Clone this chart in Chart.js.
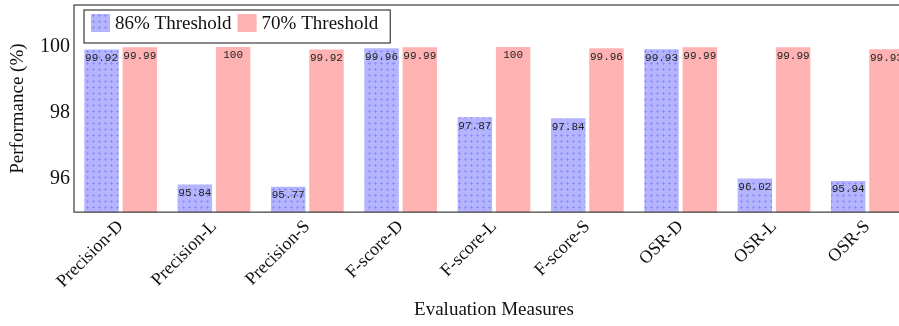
<!DOCTYPE html>
<html lang="en">
<head>
    <meta charset="UTF-8">
    <title>Evaluation Measures</title>
    <script src="https://cdn.jsdelivr.net/npm/chart.js"></script>
    <style>
        body {
            margin: 0;
            background: white;
            overflow: hidden;
        }

        .chart-box {
            position: relative;
            width: 914px;
            height: 326px;
        }
    </style>
</head>
<body>
    <div class="chart-box">
        <canvas id="perf-chart"></canvas>
    </div>

    <script>
        // Dados do gráfico
        const categories = ['Precision-D', 'Precision-L', 'Precision-S', 'F-score-D', 'F-score-L', 'F-score-S', 'OSR-D', 'OSR-L', 'OSR-S'];
        const threshold86 = [99.92, 95.84, 95.77, 99.96, 97.87, 97.84, 99.93, 96.02, 95.94];
        const threshold70 = [99.99, 100, 99.92, 99.99, 100, 99.96, 99.99, 99.99, 99.93];
        const seriesNames = ['86% Threshold', '70% Threshold'];
        const yTicks = [96, 98, 100];

        const serif = '"Liberation Serif", "DejaVu Serif", serif';
        const mono = '"Liberation Mono", "DejaVu Sans Mono", monospace';

        // Padrão de pontos para as barras azuis
        function dotPattern() {
            const c = document.createElement('canvas');
            c.width = 6;
            c.height = 6;
            const g = c.getContext('2d');
            g.fillStyle = 'rgb(180, 180, 255)';
            g.fillRect(0, 0, 6, 6);
            g.fillStyle = 'rgb(145, 145, 250)';
            g.fillRect(3, 2, 1, 3);
            g.fillRect(2, 3, 3, 1);
            return g.createPattern(c, 'repeat');
        }
        const bluePattern = dotPattern();
        const pink = 'rgb(255, 178, 178)';

        // Moldura em volta da área do gráfico
        const framePlugin = {
            id: 'frame',
            afterDraw(chart) {
                const { ctx, chartArea: { top, right, bottom, left } } = chart;
                ctx.save();
                ctx.strokeStyle = '#3a3a3a';
                ctx.lineWidth = 1.2;
                ctx.strokeRect(left, top, right - left, bottom - top);
                ctx.restore();
            }
        };

        // Valores escritos no topo de cada barra
        const valueLabelPlugin = {
            id: 'valueLabels',
            afterDatasetsDraw(chart) {
                const { ctx } = chart;
                ctx.save();
                ctx.font = '11px ' + mono;
                ctx.fillStyle = '#222';
                ctx.textAlign = 'center';
                ctx.textBaseline = 'top';
                chart.data.datasets.forEach((ds, i) => {
                    chart.getDatasetMeta(i).data.forEach((bar, j) => {
                        ctx.fillText(String(ds.data[j]), bar.x, bar.y + 3);
                    });
                });
                ctx.restore();
            }
        };

        // Legenda dentro da área do gráfico
        const innerLegendPlugin = {
            id: 'innerLegend',
            afterDraw(chart) {
                const { ctx, chartArea } = chart;
                const x0 = chartArea.left + 10;
                const y0 = chartArea.top + 5;
                ctx.save();
                ctx.font = '19px ' + serif;
                ctx.textBaseline = 'middle';
                let x = x0 + 7;
                const items = chart.data.datasets.map(ds => ({ text: ds.label, fill: ds.backgroundColor }));
                const widths = items.map(it => ctx.measureText(it.text).width);
                const boxW = 7 + items.length * (19 + 5) + widths.reduce((a, b) => a + b, 0) + (items.length - 1) * 6 + 12;
                ctx.fillStyle = 'white';
                ctx.fillRect(x0, y0, boxW, 33);
                ctx.strokeStyle = '#3a3a3a';
                ctx.lineWidth = 1.2;
                ctx.strokeRect(x0, y0, boxW, 33);
                items.forEach((it, k) => {
                    ctx.fillStyle = it.fill;
                    ctx.fillRect(x, y0 + 4, 19, 18);
                    x += 19 + 5;
                    ctx.fillStyle = '#111';
                    ctx.fillText(it.text, x, y0 + 14);
                    x += widths[k] + 6;
                });
                ctx.restore();
            }
        };

        new Chart(document.getElementById('perf-chart'), {
            type: 'bar',
            data: {
                labels: categories,
                datasets: [
                    {
                        label: seriesNames[0],
                        data: threshold86,
                        backgroundColor: bluePattern,
                        borderWidth: 0,
                    },
                    {
                        label: seriesNames[1],
                        data: threshold70,
                        backgroundColor: pink,
                        borderWidth: 0,
                    },
                ],
            },
            options: {
                responsive: true,
                maintainAspectRatio: false,
                animation: false,
                datasets: {
                    bar: {
                        categoryPercentage: 0.82,
                        barPercentage: 0.9,
                    },
                },
                layout: {
                    padding: { top: 5, right: 0, bottom: 0, left: 0 },
                },
                plugins: {
                    legend: { display: false },
                    tooltip: { enabled: false },
                },
                scales: {
                    x: {
                        grid: { display: false, drawTicks: false },
                        border: { display: false },
                        ticks: {
                            color: '#111',
                            font: { family: serif, size: 18 },
                            maxRotation: 45,
                            minRotation: 45,
                            padding: 4,
                        },
                        title: {
                            display: true,
                            text: 'Evaluation Measures',
                            color: '#111',
                            font: { family: serif, size: 19 },
                            padding: { top: 2, bottom: 5 },
                        },
                    },
                    y: {
                        min: 95,
                        max: 101.27,
                        grid: { display: false, drawTicks: false },
                        border: { display: false },
                        afterBuildTicks(scale) {
                            scale.ticks = yTicks.map(v => ({ value: v }));
                        },
                        afterFit(scale) {
                            scale.width = 74;
                            scale.paddingTop = 0;
                            scale.paddingBottom = 0;
                        },
                        ticks: {
                            color: '#111',
                            font: { family: serif, size: 20 },
                            padding: 4,
                        },
                        title: {
                            display: true,
                            text: 'Performance (%)',
                            color: '#111',
                            font: { family: serif, size: 19 },
                            padding: { top: 7, bottom: 0 },
                        },
                    },
                },
            },
            plugins: [framePlugin, valueLabelPlugin, innerLegendPlugin],
        });
    </script>
</body>
</html>
